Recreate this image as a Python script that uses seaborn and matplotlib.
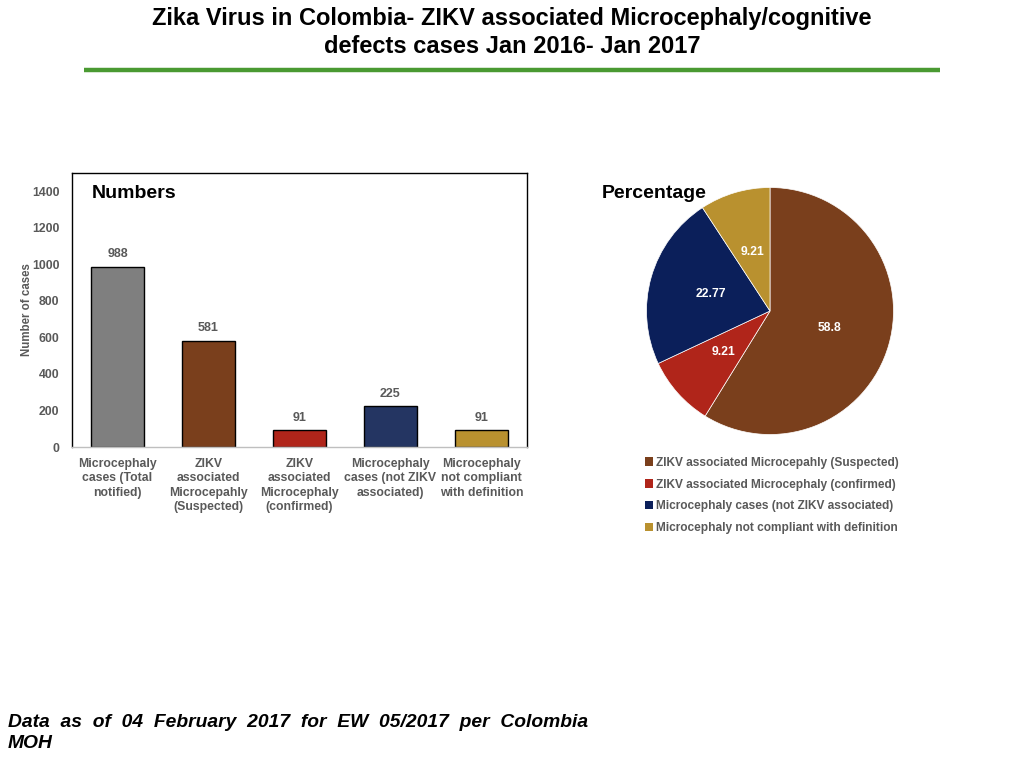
"""
Zika virus in Colombia: bar chart of case counts and pie chart of percentages.
"""

import matplotlib
matplotlib.use('Agg')
import matplotlib.pyplot as plt
from matplotlib.patches import Patch
import numpy as np
import pandas
import seaborn as sns

# Bar chart data
bar_categories = [
    'Microcephaly\ncases (Total\nnotified)',
    'ZIKV\nassociated\nMicrocepahly\n(Suspected)',
    'ZIKV\nassociated\nMicrocephaly\n(confirmed)',
    'Microcephaly\ncases (not ZIKV\nassociated)',
    'Microcephaly\nnot compliant\nwith definition',
]
bar_values = [988, 581, 91, 225, 91]
bar_colors = ['#7f7f7f', '#7a3f1c', '#b0251a', '#243562', '#b9912f']

# Pie chart data
pie_labels = [
    'ZIKV associated Microcepahly (Suspected)',
    'ZIKV associated Microcephaly (confirmed)',
    'Microcephaly cases (not ZIKV associated)',
    'Microcephaly not compliant with definition',
]
pie_values = [58.8, 9.21, 22.77, 9.21]
pie_colors = ['#7a3f1c', '#b0251a', '#0b1f5a', '#b9912f']

GREY = '#595959'


def main():
    sns.set_style('white')
    plt.rcParams['font.family'] = ['Liberation Sans', 'DejaVu Sans']
    plt.rcParams['text.color'] = 'black'

    fig = plt.figure(figsize=(10.24, 7.68), dpi=100)

    # Title and green rule
    fig.text(0.5, 0.958, 'Zika Virus in Colombia- ZIKV associated Microcephaly/cognitive\n'
             'defects cases Jan 2016- Jan 2017',
             ha='center', va='center', fontsize=17, fontweight='bold',
             color='black', linespacing=1.25)
    fig.add_artist(plt.Line2D([84 / 1024, 940 / 1024], [1 - 70 / 768] * 2,
                              color='#4a9a32', linewidth=3.2,
                              solid_capstyle='butt'))

    # Bar chart
    ax = fig.add_axes([72 / 1024, 1 - 447 / 768, 455 / 1024, 274 / 768])
    df = pandas.DataFrame({'category': bar_categories, 'cases': bar_values})
    sns.barplot(data=df, x='category', y='cases', hue='category',
                palette=bar_colors, saturation=1, legend=False, width=0.58,
                edgecolor='black', linewidth=1, ax=ax)
    ax.set_ylim(0, 1500)
    ax.set_xlim(-0.5, 4.5)
    ax.set_yticks(range(0, 1401, 200))
    ax.set_xlabel('')
    ax.tick_params(axis='both', length=0, colors=GREY, labelsize=8.8)
    for lab in ax.get_xticklabels() + ax.get_yticklabels():
        lab.set_fontweight('bold')
    for lab in ax.get_xticklabels():
        lab.set_linespacing(1.25)
    ax.tick_params(axis='x', pad=8)
    ax.tick_params(axis='y', pad=9)
    ax.set_ylabel('Number of cases', fontsize=8.3, fontweight='bold',
                  color=GREY)
    ax.yaxis.set_label_coords(-0.086, 0.5)
    for side in ('top', 'right', 'left'):
        ax.spines[side].set_color('black')
        ax.spines[side].set_linewidth(1)
    ax.spines['bottom'].set_color('#bfbfbf')
    ax.spines['bottom'].set_linewidth(1)
    for i, v in enumerate(bar_values):
        ax.text(i, v + 35, str(v), ha='center', va='bottom', fontsize=9,
                fontweight='bold', color=GREY)
    ax.text(0.044, 0.925, 'Numbers', transform=ax.transAxes, fontsize=14,
            fontweight='bold', color='black', va='center')

    # Pie chart
    pax = fig.add_axes([(770 - 123.5) / 1024, 1 - (311 + 123.5) / 768,
                        247 / 1024, 247 / 768])
    wedges, _ = pax.pie(pie_values, colors=pie_colors, startangle=90,
                        counterclock=False, radius=1,
                        wedgeprops={'linewidth': 0.5, 'edgecolor': 'white'})
    pax.set_xlim(-1, 1)
    pax.set_ylim(-1, 1)
    pax.set_aspect('equal')
    for w, v in zip(wedges, pie_values):
        ang = np.deg2rad((w.theta1 + w.theta2) / 2)
        pax.text(0.5 * np.cos(ang), 0.5 * np.sin(ang), f'{v:g}', ha='center',
                 va='center', color='white', fontsize=8.7, fontweight='bold')
    fig.text(602 / 1024, 1 - 193 / 768, 'Percentage', fontsize=14,
             fontweight='bold', color='black', va='center')

    handles = [Patch(facecolor=c, edgecolor='none') for c in pie_colors]
    leg = fig.legend(handles, pie_labels, loc='upper left',
                     bbox_to_anchor=(634 / 1024, 1 - 446 / 768), frameon=False,
                     fontsize=8.6, handlelength=0.7, handleheight=0.7,
                     handletextpad=0.25, labelspacing=0.82)
    for t in leg.get_texts():
        t.set_color(GREY)
        t.set_fontweight('bold')

    # Footnote
    fig.text(8 / 1024, 1 - 733 / 768,
             'Data  as  of  04  February  2017  for  EW  05/2017  per  Colombia\nMOH',
             fontsize=13.9, fontweight='bold', fontstyle='italic', color='black',
             va='center', linespacing=1.25)

    fig.savefig('out.png', dpi=100)


if __name__ == '__main__':
    main()
